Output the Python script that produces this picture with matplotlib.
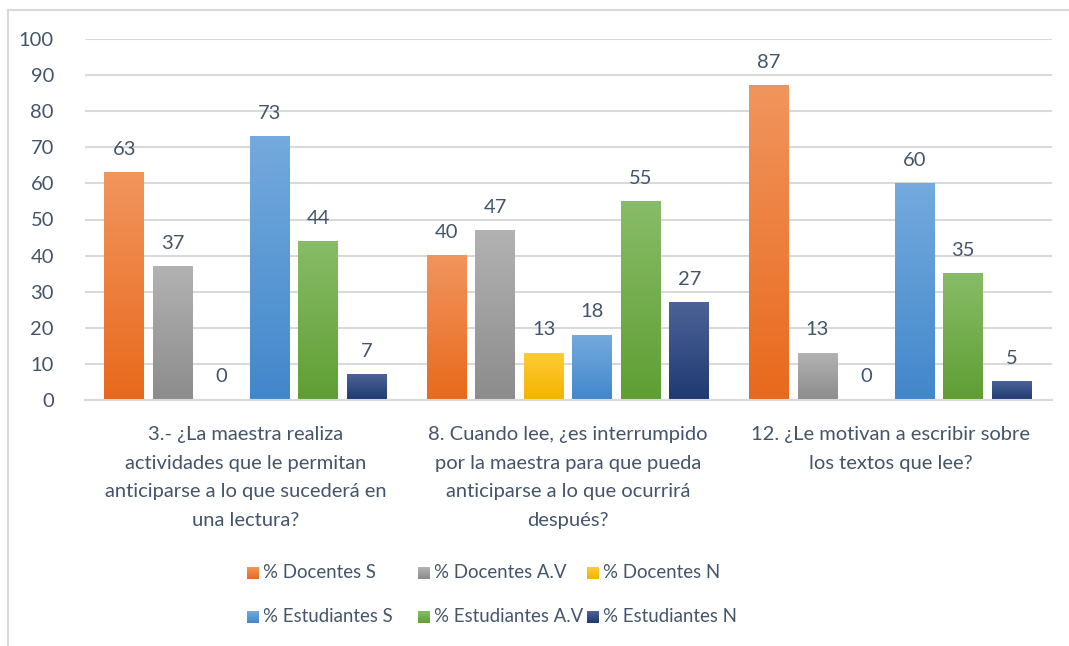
import numpy as np
import matplotlib.pyplot as plt
from matplotlib.lines import Line2D
from matplotlib.colors import LinearSegmentedColormap

plt.rcParams['font.family'] = ['Lato', 'DejaVu Sans']

# data
categories = [
    '3.- ¿La maestra realiza\nactividades que le permitan\nanticiparse a lo que sucederá en\nuna lectura?',
    '8. Cuando lee, ¿es interrumpido\npor la maestra para que pueda\nanticiparse a lo que ocurrirá\ndespués?',
    '12. ¿Le motivan a escribir sobre\nlos textos que lee?',
]
series_names = ['% Docentes S', '% Docentes A.V', '% Docentes N',
                '% Estudiantes S', '% Estudiantes A.V', '% Estudiantes N']
docentes_s = [63, 40, 87]
docentes_av = [37, 47, 13]
docentes_n = [0, 13, 0]
estudiantes_s = [73, 18, 60]
estudiantes_av = [44, 55, 35]
estudiantes_n = [7, 27, 5]
values = [docentes_s, docentes_av, docentes_n, estudiantes_s, estudiantes_av, estudiantes_n]

# (top colour, bottom colour) of the gradient fills
grads = [('#F1955E', '#E8691C'), ('#B2B2B2', '#8C8C8C'), ('#FFCA35', '#F2B400'),
         ('#74AADD', '#4287CB'), ('#88BC68', '#5F9E33'), ('#4D6397', '#1E3A70')]
txt_color = '#44546A'
grid_color = '#D9D9D9'

W, H = 1069, 646
fig = plt.figure(figsize=(W / 100, H / 100), dpi=100)
ax = fig.add_axes([84.5 / W, 246 / H, 967 / W, 361 / H])

x = np.arange(len(categories))
step = 0.1506
width = 0.124
offsets = (np.arange(6) - 2.5) * step

ax.set_xlim(-0.5, 2.5)
ax.set_ylim(0, 100)

for i, vals in enumerate(values):
    cmap = LinearSegmentedColormap.from_list('g%d' % i, [grads[i][1], grads[i][0]])
    bars = ax.bar(x + offsets[i], vals, width, color='none', zorder=2)
    for b, v in zip(bars, vals):
        x0 = b.get_x()
        if v > 0:
            grad = np.linspace(0, 1, 256).reshape(-1, 1)
            ax.imshow(grad, cmap=cmap, origin='lower', aspect='auto',
                      extent=(x0, x0 + width, 0, v), zorder=2, interpolation='bicubic')
        ax.annotate(str(v), (x0 + width / 2, v), xytext=(0, 10.5), textcoords='offset points',
                    ha='center', va='bottom', fontsize=14.5, color=txt_color)

ax.set_xlim(-0.5, 2.5)
ax.set_ylim(0, 100)
ax.set_yticks(range(0, 101, 10))
ax.yaxis.grid(True, color=grid_color, linewidth=1.5, zorder=0)
ax.set_axisbelow(True)
for s in ['top', 'right', 'left']:
    ax.spines[s].set_visible(False)
ax.spines['bottom'].set_color(grid_color)
ax.spines['bottom'].set_linewidth(1.5)
ax.tick_params(axis='both', length=0, labelsize=14.5, labelcolor=txt_color)
ax.tick_params(axis='y', pad=22)
ax.set_xticks(x)
ax.set_xticklabels(categories, linespacing=1.82)
ax.tick_params(axis='x', pad=19)

# legend laid out as a 3 x 2 grid
leg_x = [253, 424, 593]
leg_y = [573, 617]
for i, name in enumerate(series_names):
    r, c = divmod(i, 3)
    px, py = leg_x[c], leg_y[r]
    lax = fig.add_axes([(px - 6) / W, 1 - (py + 6) / H, 12 / W, 12 / H])
    lax.imshow(np.linspace(0, 1, 64).reshape(-1, 1), origin='lower', aspect='auto',
               cmap=LinearSegmentedColormap.from_list('l%d' % i, [grads[i][1], grads[i][0]]))
    lax.axis('off')
    fig.text((px + 10) / W, 1 - py / H, name, ha='left', va='center',
             fontsize=13.4, color=txt_color)

# chart frame (only top and left edges visible in the crop)
fig.add_artist(Line2D([8 / W, 8 / W], [0, 1 - 10 / H], color=grid_color, lw=1.5))
fig.add_artist(Line2D([8 / W, 1], [1 - 10 / H, 1 - 10 / H], color=grid_color, lw=1.5))

fig.savefig('out.png', dpi=100)
